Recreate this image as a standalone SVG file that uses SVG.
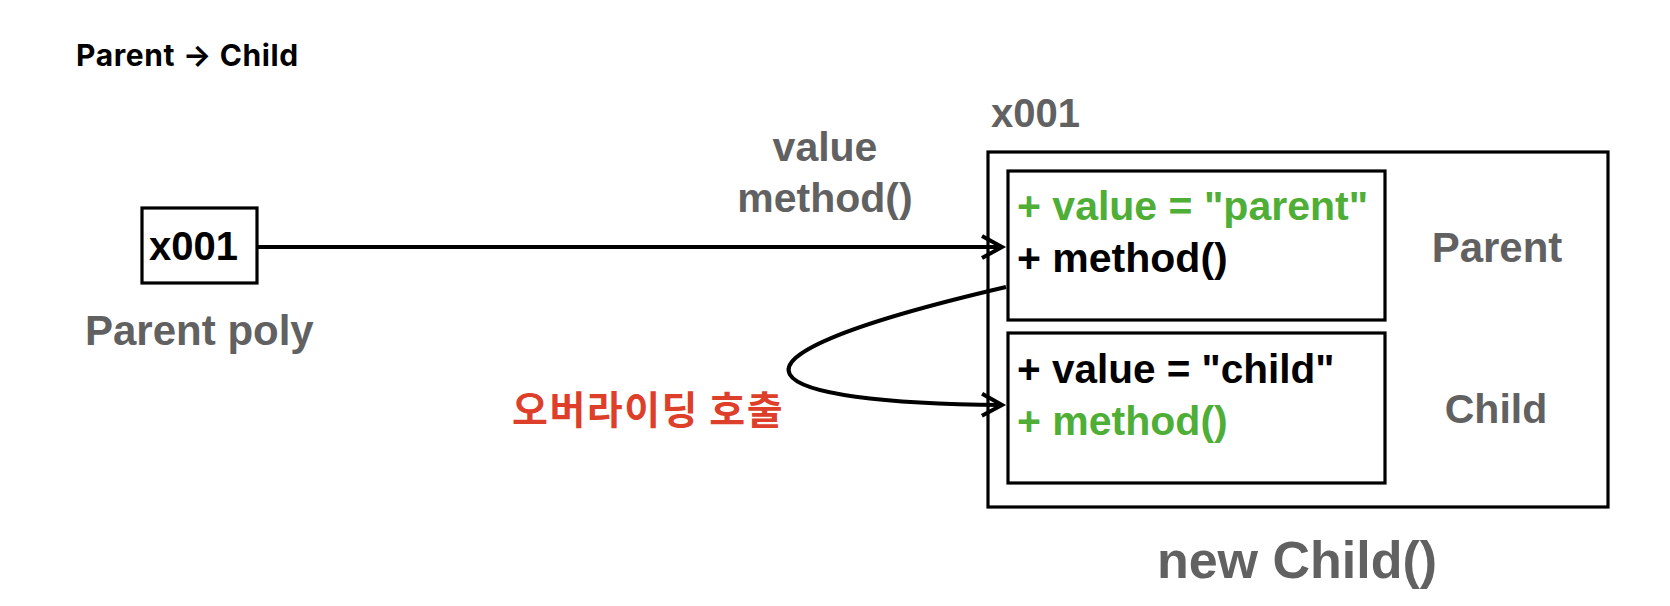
<svg xmlns="http://www.w3.org/2000/svg" width="1670" height="606" viewBox="0 0 1670 606">
  <style>
    .t { font-family: "Liberation Sans", Arial, Helvetica, sans-serif; font-weight: bold; }
    .gray { fill: #616161; }
    .blk { fill: #000000; }
    .grn { fill: #4EAE35; }
    .box { fill: #ffffff; stroke: #000000; stroke-width: 3.2; }
    .edge { fill: none; stroke: #000000; stroke-width: 4; }
  </style>
  <defs>
    <marker id="open" viewBox="-4 -4 30 30" markerWidth="30" markerHeight="30" refX="20" refY="11" orient="auto" markerUnits="userSpaceOnUse" overflow="visible">
      <path d="M0,0 L20,11 L0,22" fill="none" stroke="#000000" stroke-width="4" stroke-linejoin="miter"/>
    </marker>
  </defs>
  <rect width="1670" height="606" fill="#ffffff"/>

  <g id="title">
    <text x="76" y="66" font-family="Inter, 'Liberation Sans', sans-serif" font-weight="700" font-size="30" letter-spacing="0.6" fill="#000000">Parent → Child</text>
  </g>

  <g id="ref-poly">
    <rect class="box" x="142" y="208" width="115" height="75"/>
    <text class="t blk" x="149" y="260" font-size="40">x001</text>
    <text class="t gray" x="85" y="345" font-size="42">Parent poly</text>
  </g>

  <g id="instance">
    <text class="t gray" x="991" y="127" font-size="40">x001</text>
    <rect class="box" x="988" y="152" width="620" height="355"/>
    <text class="t gray" x="1297" y="578" font-size="52" text-anchor="middle">new Child()</text>
  </g>

  <g id="parent-part">
    <rect class="box" x="1008" y="171" width="377" height="149"/>
    <text class="t grn" x="1017" y="220" font-size="41">+ value = "parent"</text>
    <text class="t blk" x="1017" y="272" font-size="41">+ method()</text>
    <text class="t gray" x="1497" y="262" font-size="42" text-anchor="middle">Parent</text>
  </g>

  <g id="child-part">
    <rect class="box" x="1008" y="333" width="377" height="150"/>
    <text class="t blk" x="1017" y="383" font-size="40.5">+ value = "child"</text>
    <text class="t grn" x="1017" y="435" font-size="41">+ method()</text>
    <text class="t gray" x="1496" y="423" font-size="41" text-anchor="middle">Child</text>
  </g>

  <g id="connectors">
    <path class="edge" d="M258,247 L1002,247" marker-end="url(#open)"/>
    <path class="edge" d="M1006,287 C672,365 765,403 1002,405" marker-end="url(#open)"/>
    <text class="t gray" x="825" y="161" font-size="41" text-anchor="middle">value</text>
    <text class="t gray" x="825" y="212" font-size="41" text-anchor="middle">method()</text>
    <text x="512" y="424" font-family="'Noto Sans CJK KR', 'Noto Sans', sans-serif" font-weight="bold" font-size="39" letter-spacing="1.5" fill="#DE3F2A">오버라이딩 호출</text>
  </g>
</svg>
